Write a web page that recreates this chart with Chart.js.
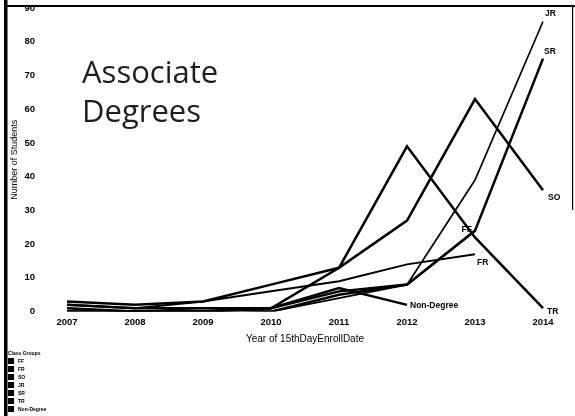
<!DOCTYPE html>
<html>
<head>
<meta charset="utf-8">
<script src="https://cdn.jsdelivr.net/npm/chart.js@4.4.0/dist/chart.umd.min.js"></script>
<style>
body{margin:0;background:#fff;}
#wrap{position:relative;width:575px;height:416px;background:#fff;}
#title{position:absolute;left:82px;top:52px;font-family:'Open Sans',sans-serif;font-size:31px;line-height:39px;color:#1e1e1e;}
#legend{position:absolute;left:8px;top:349px;font-family:Arial,'Liberation Sans',sans-serif;font-size:5px;font-weight:bold;color:#000;}
#legend .row{height:8px;display:flex;align-items:center;}
#legend .sq{width:6px;height:6px;background:#000;margin-right:4px;}
</style>
</head>
<body>
<div id="wrap">
  <canvas id="myChart"></canvas>
  <div id="title">Associate<br>Degrees</div>
  <div id="legend"></div>
</div>
<script>
// data
const years = ['2007','2008','2009','2010','2011','2012','2013','2014']
const groups = ['FF','FR','SO','JR','SR','TR','Non-Degree']

const ff = [0, 0, 0, 1, 6, 8, 24]
const fr = [2, 1, 3, 6, 9, 14, 17]
const so = [3, 2, 3, 8, 13, 27, 63, 36]
const jr = [1, 0, 1, 0, 4, 8, 39, 86]
const sr = [0, 0, 0, 0, 5, 8, 24, 75]
const tr = [2, 1, 1, 1, 13, 49, 22, 1]
const nonDegree = [1, 0, 0, 1, 7, 2]

// where each end label sits relative to the last point
const labelPos = {
  'FF': {dx:-3, dy:-1, align:'right'},
  'FR': {dx:2, dy:8, align:'left'},
  'SO': {dx:5, dy:7, align:'left'},
  'JR': {dx:2, dy:-8, align:'left'},
  'SR': {dx:1, dy:-7, align:'left'},
  'TR': {dx:4, dy:3, align:'left'},
  'Non-Degree': {dx:3, dy:1, align:'left'}
}

const seriesData = [ff, fr, so, jr, sr, tr, nonDegree]
const widths = [2.5, 2, 2.5, 1.7, 2.5, 2.5, 2.5]

const datasets = groups.map((g, i) => ({
  label: g,
  data: seriesData[i],
  borderColor: '#000',
  backgroundColor: '#000',
  borderWidth: widths[i],
  pointRadius: 0,
  tension: 0,
  fill: false
}))

// legend under the chart
const legend = document.getElementById('legend')
legend.innerHTML = '<div class="row">Class Groups</div>' +
  groups.map(g => '<div class="row"><span class="sq"></span>' + g + '</div>').join('')

const endLabels = {
  id: 'endLabels',
  afterDatasetsDraw(chart) {
    const ctx = chart.ctx
    ctx.save()
    ctx.fillStyle = '#000'
    ctx.font = 'bold 8.5px Arial, "Liberation Sans", sans-serif'
    ctx.textBaseline = 'middle'
    chart.data.datasets.forEach((ds, i) => {
      const meta = chart.getDatasetMeta(i)
      const pt = meta.data[meta.data.length - 1]
      const p = labelPos[ds.label]
      ctx.textAlign = p.align
      ctx.fillText(ds.label, pt.x + p.dx, pt.y + p.dy)
    })
    ctx.restore()
  }
}

const frame = {
  id: 'frame',
  afterDraw(chart) {
    const ctx = chart.ctx
    ctx.save()
    ctx.fillStyle = '#000'
    ctx.fillRect(4, 0, 3.5, 416)
    ctx.fillRect(4, 5, 571, 2)
    ctx.fillRect(572, 5, 1.2, 205)
    ctx.restore()
  }
}

const config = {
  type: 'line',
  data: {
    labels: years,
    datasets: datasets
  },
  options: {
    responsive: true,
    maintainAspectRatio: false,
    animation: false,
    layout: {padding: {left: 6, top: 8, right: 32, bottom: 71}},
    plugins: {legend: {display: false}, tooltip: {enabled: false}},
    scales: {
      x: {
        offset: false,
        grid: {display: false, drawTicks: false},
        border: {display: false},
        ticks: {color: '#000', padding: 5, maxRotation: 0, font: {family: 'Arial', size: 9.5, weight: 'bold'}},
        title: {display: true, text: 'Year of 15thDayEnrollDate', color: '#000', padding: {top: 0, bottom: 0}, font: {family: 'Arial', size: 10}}
      },
      y: {
        min: 0,
        max: 90,
        grid: {display: false, drawTicks: false},
        border: {display: false},
        ticks: {stepSize: 10, color: '#000', padding: 32, font: {family: 'Arial', size: 9.5, weight: 'bold'}},
        title: {display: true, text: 'Number of Students', color: '#000', padding: {top: 3, bottom: 0}, font: {family: 'Arial', size: 9}},
        afterFit(s) {
          s.width = 61
          // big tick padding would otherwise push the plot down
          s.paddingTop = 4
          s.paddingBottom = 4
        }
      }
    }
  },
  plugins: [endLabels, frame]
}

const myChart = new Chart(document.getElementById('myChart'), config)
</script>
</body>
</html>
